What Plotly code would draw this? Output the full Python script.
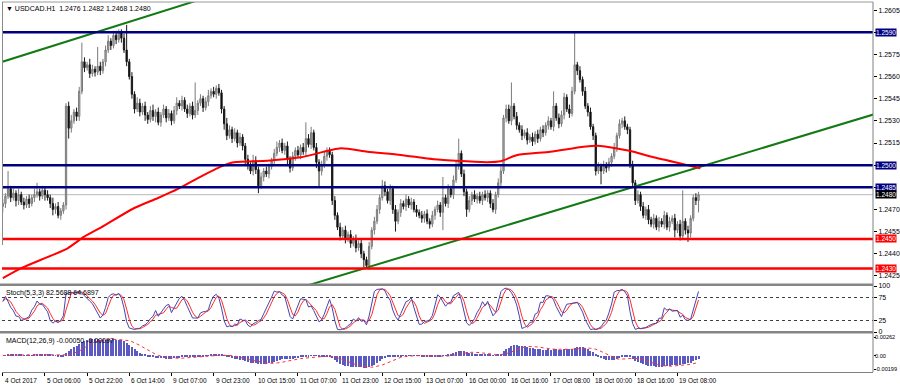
import plotly.graph_objects as go

# ---------------- data (prices in pips above 1.2400) ----------------
first_open = 72
close_pips = [
    74, 79, 84, 78, 81, 76, 80, 75, 73, 77,
    74, 78, 80, 82, 79, 83, 80, 78, 74, 70,
    72, 66, 69, 73, 140, 125, 130, 136, 133, 150,
    170, 166, 168, 162, 165, 163, 167, 164, 170, 178,
    184, 181, 188, 185, 190, 186, 178, 170, 160, 148,
    138, 142, 136, 140, 134, 131, 137, 133, 136, 129,
    134, 138, 132, 135, 130, 137, 142, 140, 144, 138,
    135, 140, 134, 137, 142, 145, 139, 143, 147, 150,
    148, 152, 149, 138, 128, 120, 124, 118, 122, 115,
    119, 113, 104, 100, 96, 103, 97, 86, 92, 96,
    94, 99, 103, 108, 112, 115, 110, 113, 104, 98,
    106, 110, 107, 112, 109, 118, 114, 122, 112, 102,
    96, 100, 106, 110, 107, 76, 66, 58, 52, 56,
    50, 53, 47, 50, 44, 47, 40, 36, 32, 45,
    56, 62, 70, 78, 86, 82, 76, 84, 70, 62,
    68, 74, 72, 77, 73, 75, 70, 68, 66, 64,
    67, 62, 60, 66, 70, 73, 68, 78, 74, 84,
    80, 90, 100, 108, 94, 82, 70, 76, 80, 77,
    79, 76, 80, 78, 81, 74, 70, 80, 88, 96,
    132, 138, 130, 140, 133, 127, 124, 120, 122, 117,
    119, 116, 121, 118, 124, 122, 127, 130, 126, 140,
    132, 128, 134, 146, 138, 135, 150, 168, 164, 158,
    150, 140, 136, 126, 120, 96, 99, 96, 100, 98,
    102, 106, 112, 120, 128, 130, 126, 124, 100, 88,
    76, 80, 72, 66, 70, 63, 60, 64, 58, 62,
    60, 66, 58, 62, 64, 56, 60, 52, 62, 56,
    54, 64, 78, 76, 80]
upper_wick_pips = [
    3, 2, 12, 2, 3, 2, 4, 2, 3, 2,
    3, 2, 4, 6, 2, 3, 2, 3, 2, 4,
    2, 3, 2, 2, 2, 3, 4, 2, 3, 3,
    13, 3, 2, 4, 3, 2, 13, 3, 2, 3,
    4, 2, 3, 3, 2, 2, 3, 17, 2, 3,
    2, 4, 3, 2, 3, 2, 3, 4, 2, 3,
    2, 3, 2, 3, 2, 3, 4, 2, 3, 2,
    3, 2, 3, 19, 2, 3, 2, 3, 4, 2,
    3, 2, 3, 2, 2, 4, 3, 2, 3, 2,
    3, 2, 2, 3, 2, 4, 3, 2, 3, 2,
    3, 2, 2, 3, 4, 2, 3, 2, 3, 2,
    3, 2, 3, 2, 3, 11, 3, 4, 2, 3,
    2, 3, 3, 2, 2, 2, 3, 2, 3, 2,
    3, 2, 3, 2, 3, 2, 3, 2, 2, 3,
    2, 3, 3, 2, 4, 3, 2, 3, 2, 3,
    2, 3, 2, 3, 2, 3, 2, 3, 2, 3,
    2, 3, 2, 3, 2, 3, 2, 14, 2, 3,
    2, 3, 3, 10, 2, 3, 2, 3, 2, 3,
    2, 3, 2, 3, 2, 2, 3, 2, 3, 3,
    2, 3, 3, 16, 2, 3, 2, 3, 2, 3,
    2, 3, 2, 3, 2, 3, 2, 3, 2, 10,
    2, 3, 3, 3, 2, 3, 3, 22, 2, 3,
    2, 3, 2, 3, 2, 2, 3, 2, 3, 2,
    3, 2, 3, 2, 3, 2, 3, 2, 2, 3,
    2, 3, 2, 3, 2, 3, 2, 3, 2, 3,
    2, 3, 2, 3, 2, 3, 2, 3, 21, 2,
    3, 2, 2, 3, 2]
lower_wick_pips = [
    4, 3, 2, 3, 2, 4, 3, 2, 3, 2,
    3, 2, 3, 2, 3, 2, 4, 2, 3, 4,
    3, 2, 3, 2, 3, 7, 3, 2, 3, 3,
    2, 3, 2, 3, 2, 3, 2, 3, 2, 3,
    2, 3, 2, 3, 2, 3, 2, 3, 2, 3,
    3, 2, 3, 2, 4, 3, 2, 3, 4, 2,
    3, 2, 3, 2, 3, 2, 3, 2, 3, 2,
    3, 2, 3, 2, 3, 2, 3, 2, 3, 2,
    2, 3, 2, 3, 4, 3, 2, 3, 2, 3,
    2, 3, 4, 3, 2, 3, 3, 5, 2, 3,
    2, 3, 2, 3, 2, 3, 2, 3, 4, 3,
    2, 3, 2, 3, 2, 3, 2, 3, 2, 4,
    11, 3, 2, 3, 2, 3, 3, 2, 3, 2,
    3, 2, 3, 2, 3, 2, 3, 5, 2, 3,
    2, 3, 2, 3, 2, 3, 2, 3, 3, 7,
    2, 3, 2, 3, 2, 3, 2, 3, 2, 3,
    3, 2, 3, 2, 3, 2, 3, 12, 2, 3,
    2, 3, 2, 3, 2, 3, 5, 2, 3, 2,
    3, 2, 3, 2, 3, 3, 2, 3, 2, 3,
    2, 3, 2, 3, 2, 3, 2, 3, 2, 3,
    2, 3, 2, 3, 2, 3, 2, 3, 2, 3,
    2, 3, 2, 3, 2, 3, 2, 2, 3, 2,
    3, 2, 3, 2, 3, 3, 2, 9, 2, 3,
    2, 3, 2, 3, 2, 3, 2, 3, 2, 3,
    3, 2, 3, 2, 3, 3, 2, 3, 2, 3,
    2, 3, 2, 3, 2, 5, 2, 3, 2, 3,
    6, 3, 2, 3, 8]

# moving average readings (bar index, price)
ma_idx = [0, 7, 24.6, 30.9, 37.2, 49.7, 58.7, 66.3, 75.1, 82.7, 87.7, 100.4, 113.1,
          128.2, 138.3, 151, 163.5, 173.7, 183.8, 188.9, 195.2, 207.8, 220.4, 226.8,
          239.3, 245.8, 258.3, 264.7]
ma_val = [1.24234, 1.24302, 1.24437, 1.24516, 1.24577, 1.24708, 1.24776, 1.24837,
          1.24922, 1.2499, 1.2502, 1.2503, 1.25053, 1.25114, 1.25091, 1.25069, 1.2504,
          1.25028, 1.2502, 1.25026, 1.25069, 1.25091, 1.25125, 1.2513, 1.25091,
          1.25058, 1.25006, 1.24979]

# trend line anchors (bar index, price)
upper_trend = [(0, 1.25701), (74.4, 1.26119)]
lower_trend = [(137.7, 1.24304), (264.7, 1.24989)]

navy_levels = [1.2590, 1.2500, 1.2485]
red_levels = [1.2450, 1.2430]
bid_price = 1.2480

time_tick_idx = list(range(0, 257, 16))
time_tick_lbl = ["4 Oct 2017", "5 Oct 06:00", "5 Oct 22:00", "6 Oct 14:00", "9 Oct 07:00",
                 "9 Oct 23:00", "10 Oct 15:00", "11 Oct 07:00", "11 Oct 23:00",
                 "12 Oct 15:00", "13 Oct 07:00", "16 Oct 00:00", "16 Oct 16:00",
                 "17 Oct 08:00", "18 Oct 00:00", "18 Oct 16:00", "19 Oct 08:00"]
price_ticks = [1.2425, 1.2440, 1.2455, 1.2470, 1.2485, 1.2500, 1.2515, 1.2530,
               1.2545, 1.2560, 1.2575, 1.2590, 1.2605]
macd_ticks = [-0.00199, 0.0, 0.00262]
macd_tick_lbl = ["-0.00199", "0.00", "0.00262"]

title_text = "\u25BC USDCAD.H1  1.2476 1.2482 1.2468 1.2480"
stoch_text = "Stoch(5,3,3) 82.5688 64.6897"
macd_text = "MACD(12,26,9) -0.00050 -0.00097"

assert len(close_pips) == len(upper_wick_pips) == len(lower_wick_pips)

# ---------------- derive OHLC ----------------
n = len(close_pips)
idx = list(range(n))
P = lambda v: 1.24 + v / 10000.0
open_pips = [first_open] + close_pips[:-1]
opn = [P(v) for v in open_pips]
cls = [P(v) for v in close_pips]
hig = [P(max(o, c) + u) for o, c, u in zip(open_pips, close_pips, upper_wick_pips)]
low = [P(min(o, c) - d) for o, c, d in zip(open_pips, close_pips, lower_wick_pips)]

# Stochastic(5,3,3)
num, den = [], []
for i in range(n):
    lo5 = min(low[max(0, i - 4):i + 1]); hi5 = max(hig[max(0, i - 4):i + 1])
    num.append(cls[i] - lo5); den.append(hi5 - lo5)
stK = []
for i in range(n):
    a = sum(num[max(0, i - 2):i + 1]); b = sum(den[max(0, i - 2):i + 1])
    stK.append(100 * a / b if b else 50)
stD = [sum(stK[max(0, i - 2):i + 1]) / len(stK[max(0, i - 2):i + 1]) for i in range(n)]

# MACD(12,26,9)
def ema(vals, p):
    k = 2 / (p + 1); out = [vals[0]]
    for v in vals[1:]:
        out.append(out[-1] + k * (v - out[-1]))
    return out
e12, e26 = ema(cls, 12), ema(cls, 26)
macd = [a - b for a, b in zip(e12, e26)]
sig = [sum(macd[max(0, i - 8):i + 1]) / len(macd[max(0, i - 8):i + 1]) for i in range(n)]

def extend(anchors, a, b):
    (i0, p0), (i1, p1) = anchors
    s = (p1 - p0) / (i1 - i0)
    return [a, b], [p0 + s * (a - i0), p0 + s * (b - i0)]

# ---------------- figure ----------------
L, R, T, B, W, H = 2, 27, 2, 15, 900, 387
PW, PH = W - L - R, H - T - B
PXf = lambda x: (x - L) / PW
PYf = lambda y: (H - B - y) / PH

fig = go.Figure()
fig.add_trace(go.Candlestick(
    x=idx, open=opn, high=hig, low=low, close=cls, xaxis="x", yaxis="y",
    increasing=dict(line=dict(color="#7a7a7a", width=1), fillcolor="#b4b4b4"),
    decreasing=dict(line=dict(color="#1a1a1a", width=1), fillcolor="#000000"),
    whiskerwidth=0, hoverinfo="skip"))

ux, uy = extend(upper_trend, -5, 90)
lx, ly = extend(lower_trend, 110, 340)
for xs, ys in ((ux, uy), (lx, ly)):
    fig.add_trace(go.Scatter(x=xs, y=ys, mode="lines", line=dict(color="#137a13", width=2),
                             xaxis="x", yaxis="y", hoverinfo="skip"))
fig.add_trace(go.Scatter(x=ma_idx, y=ma_val, mode="lines",
                         line=dict(color="#ff0000", width=2, shape="spline", smoothing=0.6),
                         xaxis="x", yaxis="y", hoverinfo="skip"))

# stochastic
fig.add_trace(go.Scatter(x=idx, y=stD, mode="lines", line=dict(color="#ff2a2a", width=1),
                         xaxis="x", yaxis="y2", hoverinfo="skip"))
fig.add_trace(go.Scatter(x=idx, y=stK, mode="lines", line=dict(color="#4545b0", width=1),
                         xaxis="x", yaxis="y2", hoverinfo="skip"))
# MACD
fig.add_trace(go.Bar(x=idx, y=macd, width=0.38, marker=dict(color="#5a5ac2", line=dict(width=0)),
                     xaxis="x", yaxis="y3", hoverinfo="skip"))
fig.add_trace(go.Scatter(x=idx, y=sig, mode="lines", line=dict(color="#ff3030", width=1, dash="dot"),
                         xaxis="x", yaxis="y3", hoverinfo="skip"))

shapes = []
for lv in navy_levels:
    shapes.append(dict(type="line", xref="x domain", yref="y", x0=0, x1=1, y0=lv, y1=lv,
                       line=dict(color="#000080", width=2.5), layer="above"))
for lv in red_levels:
    shapes.append(dict(type="line", xref="x domain", yref="y", x0=0, x1=1, y0=lv, y1=lv,
                       line=dict(color="#ff0000", width=2.5), layer="above"))
shapes.append(dict(type="line", xref="x domain", yref="y", x0=0, x1=1, y0=bid_price, y1=bid_price,
                   line=dict(color="#b8b8b8", width=1), layer="below"))
for lv in (25, 75):
    shapes.append(dict(type="line", xref="x domain", yref="y2", x0=0, x1=1, y0=lv, y1=lv,
                       line=dict(color="#404040", width=1, dash="dot"), layer="below"))
# frames
shapes.append(dict(type="line", xref="paper", yref="paper", x0=PXf(2), x1=PXf(873),
                   y0=PYf(2), y1=PYf(2), line=dict(color="#9a9a9a", width=1)))
shapes.append(dict(type="line", xref="paper", yref="paper", x0=PXf(2.5), x1=PXf(2.5),
                   y0=PYf(2), y1=PYf(245), line=dict(color="#8a8a8a", width=1)))
shapes.append(dict(type="line", xref="paper", yref="paper", x0=PXf(873), x1=PXf(873),
                   y0=PYf(2), y1=PYf(372), line=dict(color="#808080", width=1)))
for y0, y1 in ((283.5, 286), (331, 333.5)):
    shapes.append(dict(type="rect", xref="paper", yref="paper", x0=PXf(0), x1=PXf(873),
                       y0=PYf(y1), y1=PYf(y0), fillcolor="#858585", line=dict(width=0)))

ann = []
FAM = "Liberation Sans, Arial, sans-serif"
fnt = dict(family=FAM, size=7, color="#000000")
ann.append(dict(text=title_text, xref="paper", yref="paper", x=PXf(4), y=PYf(3), xanchor="left",
                yanchor="top", showarrow=False, font=fnt))
ann.append(dict(text=stoch_text, xref="paper", yref="paper", x=PXf(4), y=PYf(287), xanchor="left",
                yanchor="top", showarrow=False, font=fnt))
ann.append(dict(text=macd_text, xref="paper", yref="paper", x=PXf(4), y=PYf(335), xanchor="left",
                yanchor="top", showarrow=False, font=fnt))
for ti, tl in zip(time_tick_idx, time_tick_lbl):
    ann.append(dict(text=tl, xref="x", yref="paper", x=ti, y=PYf(374.5), xanchor="left",
                    yanchor="top", xshift=0, showarrow=False,
                    font=dict(family=FAM, size=6.5, color="#000")))
def price_tag(v, bg):
    return dict(text="%.4f" % v, xref="paper", yref="y", x=1, y=v, xanchor="left", yanchor="middle",
                xshift=2, showarrow=False, bgcolor=bg, borderpad=0,
                font=dict(family=FAM, size=6.5, color="#ffffff"))
for lv in navy_levels:
    ann.append(price_tag(lv, "#000080"))
for lv in red_levels:
    ann.append(price_tag(lv, "#ff0000"))
ann.append(price_tag(bid_price, "#000000"))
# MACD scale values written as text so they fit in the narrow right strip
for v, t in zip(macd_ticks, macd_tick_lbl):
    ann.append(dict(text=t, xref="paper", yref="y3", x=1, y=v, xanchor="left", yanchor="middle",
                    xshift=1, showarrow=False, borderpad=0,
                    font=dict(family=FAM, size=5.6, color="#000")))

covered = set(navy_levels)
price_tick_txt = ["" if any(abs(p - c) < 1e-9 for c in covered) else "%.4f" % p for p in price_ticks]

axfont = dict(family=FAM, size=7, color="#000000")
fig.update_layout(
    width=W, height=H, margin=dict(l=L, r=R, t=T, b=B),
    paper_bgcolor="white", plot_bgcolor="white", showlegend=False, bargap=0,
    shapes=shapes, annotations=ann,
    xaxis=dict(range=[-0.3, 330.2], domain=[0, 1], anchor="y3", tickvals=time_tick_idx,
               showticklabels=False, ticks="outside", ticklen=3, tickcolor="#000",
               showgrid=False, zeroline=False, showline=True, linecolor="#808080",
               rangeslider=dict(visible=False), fixedrange=True),
    yaxis=dict(domain=[PYf(284), PYf(2)], range=[1.24195, 1.26105], side="right", anchor="x",
               tickvals=price_ticks, ticktext=price_tick_txt, ticks="outside", ticklen=3,
               tickcolor="#000", tickfont=axfont, showgrid=False, zeroline=False, automargin=False),
    yaxis2=dict(domain=[PYf(332), PYf(286)], range=[0, 100], side="right", anchor="x",
                tickvals=[0, 25, 75, 100], ticktext=["0", "25", "75", "100"], ticks="outside",
                ticklen=3, tickcolor="#000", tickfont=axfont, showgrid=False, zeroline=False,
                automargin=False),
    yaxis3=dict(domain=[PYf(372), PYf(334)], range=[-0.00238, 0.00310], side="right", anchor="x",
                tickvals=macd_ticks, showticklabels=False, ticks="outside", ticklen=2,
                tickcolor="#000", showgrid=False, zeroline=False, automargin=False),
)
fig.write_html("out.html")
